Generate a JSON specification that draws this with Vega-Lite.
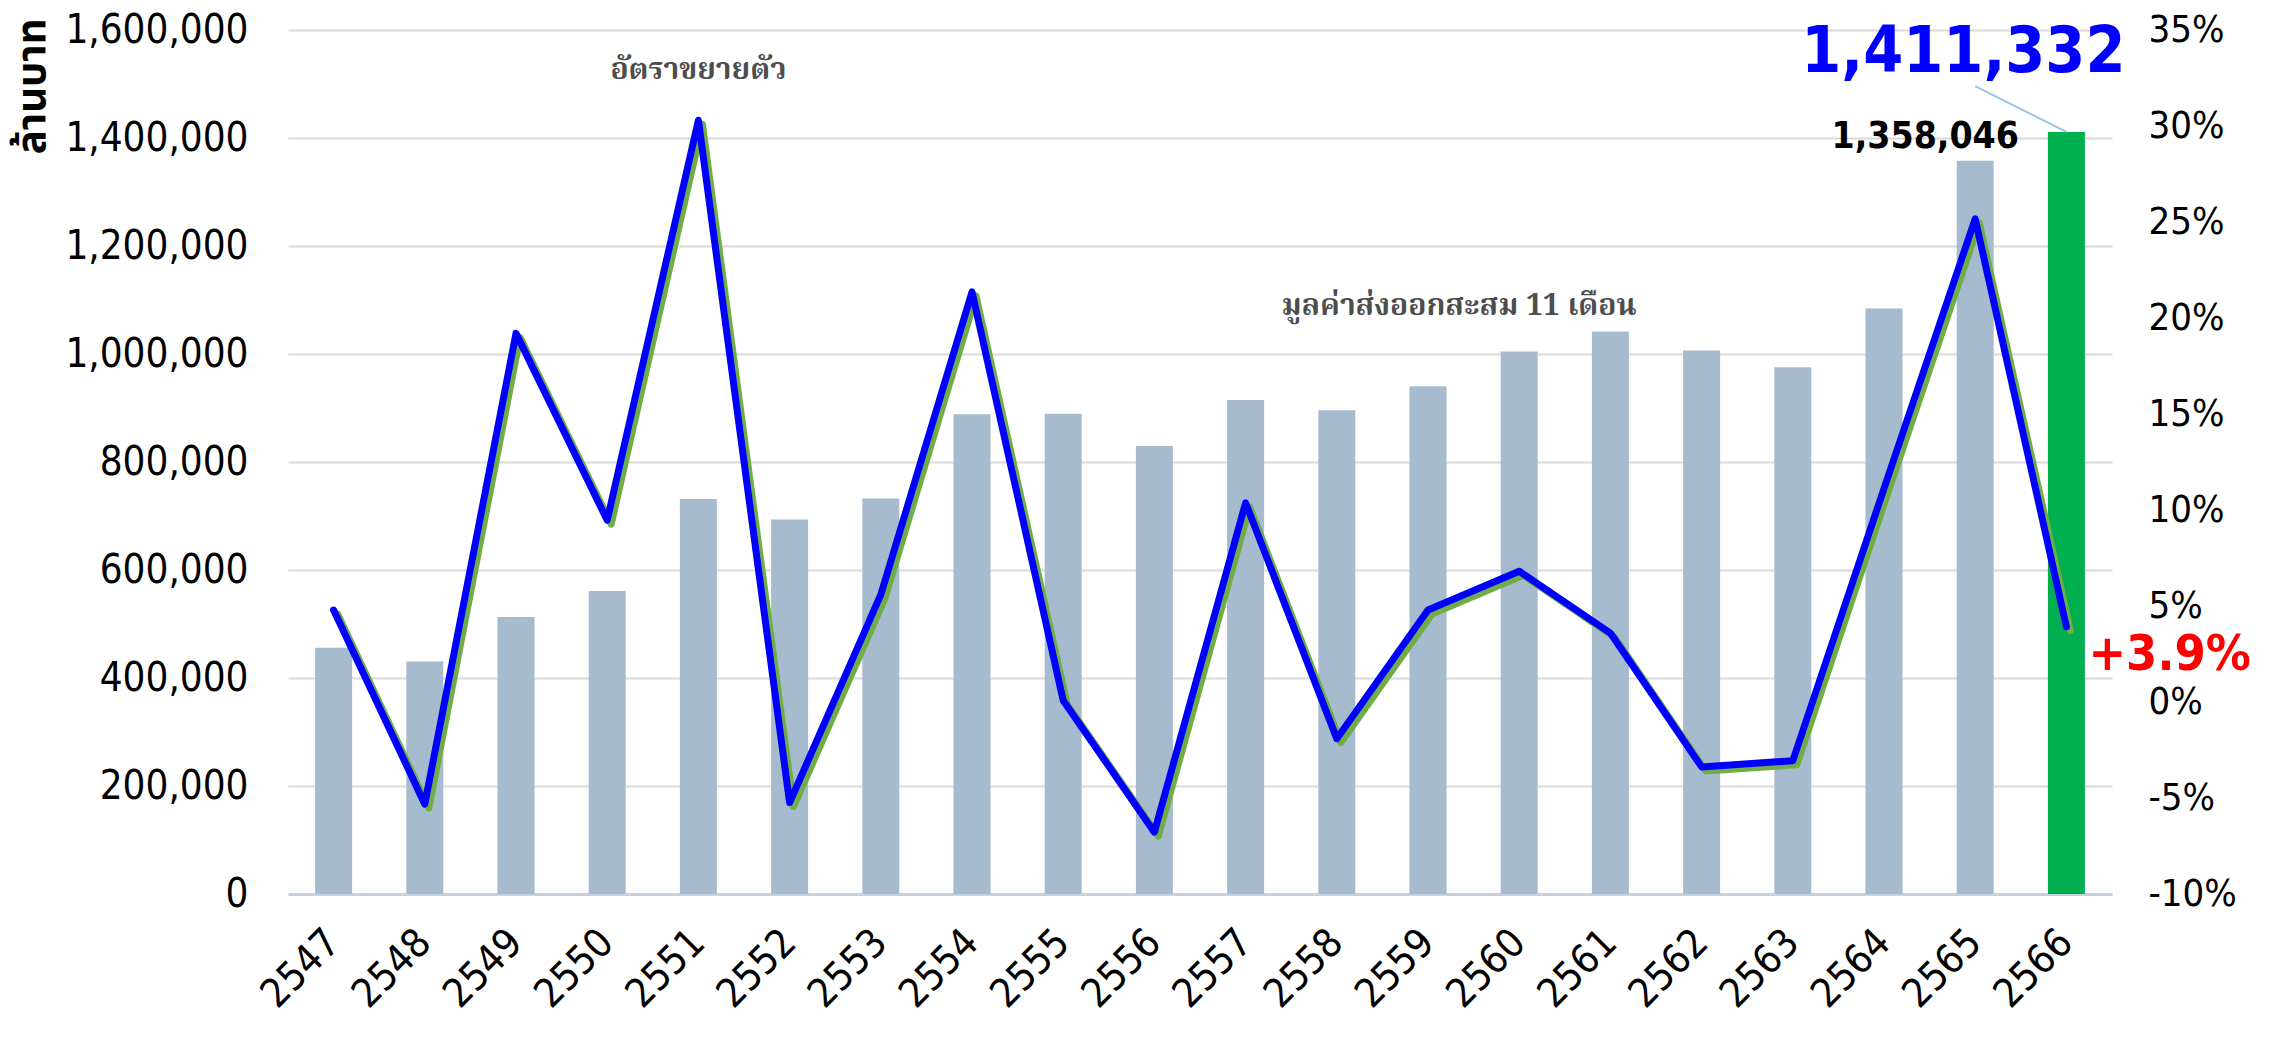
{
  "$schema": "https://vega.github.io/schema/vega-lite/v6.json",
  "width": 1824,
  "height": 864,
  "autosize": {"type": "none"},
  "padding": {"left": 288, "top": 30, "right": 167, "bottom": 143},
  "background": "white",
  "config": {
    "view": {"stroke": null},
    "font": "DejaVu Sans Condensed, DejaVu Sans, sans-serif",
    "axisX": {
      "title": null,
      "labelAngle": -45,
      "labelAlign": "right",
      "labelBaseline": "middle",
      "labelFontSize": 40,
      "labelColor": "#000000",
      "labelPadding": 42,
      "labelFont": "DejaVu Sans Condensed, DejaVu Sans, sans-serif",
      "ticks": false,
      "grid": false,
      "domainColor": "#C5D1DE",
      "domainWidth": 3
    }
  },
  "datasets": {
    "main": [
      {"year": "2547", "value": 456000, "growth": 0.0479},
      {"year": "2548", "value": 430700, "growth": -0.0532},
      {"year": "2549", "value": 513000, "growth": 0.192},
      {"year": "2550", "value": 561200, "growth": 0.0947},
      {"year": "2551", "value": 731400, "growth": 0.303},
      {"year": "2552", "value": 693600, "growth": -0.0524},
      {"year": "2553", "value": 732400, "growth": 0.0559},
      {"year": "2554", "value": 888400, "growth": 0.2136},
      {"year": "2555", "value": 889400, "growth": 0.0008},
      {"year": "2556", "value": 829800, "growth": -0.0678},
      {"year": "2557", "value": 914900, "growth": 0.1037},
      {"year": "2558", "value": 896000, "growth": -0.0191},
      {"year": "2559", "value": 940400, "growth": 0.0479},
      {"year": "2560", "value": 1004700, "growth": 0.0681},
      {"year": "2561", "value": 1041600, "growth": 0.0359},
      {"year": "2562", "value": 1006600, "growth": -0.0338},
      {"year": "2563", "value": 975400, "growth": -0.0306},
      {"year": "2564", "value": 1084200, "growth": 0.1112},
      {"year": "2565", "value": 1358046, "growth": 0.2516},
      {"year": "2566", "value": 1411332, "growth": 0.0392}
    ]
  },
  "layer": [
    {
      "layer": [
        {
          "data": {"name": "main"},
          "mark": {"type": "bar", "width": 37},
          "encoding": {
            "x": {"field": "year", "type": "ordinal", "scale": {"paddingInner": 0, "paddingOuter": 0}},
            "y": {
              "field": "value", "type": "quantitative",
              "scale": {"domain": [0, 1600000], "nice": false},
              "axis": {
                "orient": "left",
                "values": [0, 200000, 400000, 600000, 800000, 1000000, 1200000, 1400000, 1600000],
                "format": ",d",
                "labelFontSize": 40,
                "labelLimit": 400,
                "labelColor": "#000000",
                "labelPadding": 40,
                "ticks": false,
                "domain": false,
                "grid": true,
                "gridColor": "#D9D9D9",
                "gridWidth": 2,
                "title": "ล้านบาท",
                "titleFont": "Tahoma, Noto Sans Thai, Loma, DejaVu Sans, sans-serif",
                "titleFontSize": 40,
                "titleFontWeight": "bold",
                "titleColor": "#000000",
                "titleAngle": -90,
                "titleAlign": "right",
                "titleBaseline": "alphabetic",
                "titleLimit": 400,
                "titleX": -244,
                "titleY": -12
              }
            },
            "color": {
              "condition": {"test": "datum.year === '2566'", "value": "#00B050"},
              "value": "#A7BBCF"
            }
          }
        },
        {
          "data": {"values": [{"year": "2565", "value": 1496000}, {"year": "2566", "value": 1411332}]},
          "mark": {"type": "line", "color": "#9DC3E6", "strokeWidth": 2},
          "encoding": {
            "x": {"field": "year", "type": "ordinal"},
            "y": {"field": "value", "type": "quantitative"}
          }
        },
        {
          "data": {"values": [{"year": "2565", "value": 1358046, "label": "1,358,046"}]},
          "mark": {"type": "text", "fontSize": 37, "fontWeight": "bold", "color": "#000000", "align": "center", "baseline": "alphabetic", "dx": -50, "dy": -13},
          "encoding": {
            "x": {"field": "year", "type": "ordinal"},
            "y": {"field": "value", "type": "quantitative"},
            "text": {"field": "label"}
          }
        },
        {
          "data": {"values": [{"year": "2566", "value": 1522000, "label": "1,411,332"}]},
          "mark": {"type": "text", "fontSize": 64, "fontWeight": "bold", "color": "#0000FF", "align": "center", "baseline": "alphabetic", "dx": -103},
          "encoding": {
            "x": {"field": "year", "type": "ordinal"},
            "y": {"field": "value", "type": "quantitative"},
            "text": {"field": "label"}
          }
        },
        {
          "data": {"values": [
            {"year": "2551", "value": 1526000, "label": "อัตราขยายตัว"}
          ]},
          "mark": {"type": "text", "fontSize": 30, "fontWeight": "bold", "color": "#4D4D4D", "align": "center", "baseline": "middle", "font": "Noto Serif Thai, Noto Sans Thai, Loma, Tahoma, serif"},
          "encoding": {
            "x": {"field": "year", "type": "ordinal"},
            "y": {"field": "value", "type": "quantitative"},
            "text": {"field": "label"}
          }
        },
        {
          "data": {"values": [
            {"year": "2559", "value": 1089000, "label": "มูลค่าส่งออกสะสม 11 เดือน"}
          ]},
          "mark": {"type": "text", "fontSize": 30, "fontWeight": "bold", "color": "#4D4D4D", "align": "center", "baseline": "middle", "dx": 31, "font": "Noto Serif Thai, Noto Sans Thai, Loma, Tahoma, serif"},
          "encoding": {
            "x": {"field": "year", "type": "ordinal"},
            "y": {"field": "value", "type": "quantitative"},
            "text": {"field": "label"}
          }
        }
      ]
    },
    {
      "layer": [
        {
          "data": {"name": "main"},
          "mark": {"type": "line", "color": "#70AD47", "strokeWidth": 7, "xOffset": 4, "yOffset": 4, "strokeJoin": "round", "strokeCap": "round"},
          "encoding": {
            "x": {"field": "year", "type": "ordinal"},
            "y": {
              "field": "growth", "type": "quantitative",
              "scale": {"domain": [-0.1, 0.35], "nice": false, "zero": false},
              "axis": {
                "orient": "right",
                "values": [-0.1, -0.05, 0, 0.05, 0.1, 0.15, 0.2, 0.25, 0.3, 0.35],
                "labelExpr": "round(datum.value * 100) + '%'",
                "labelFontSize": 38,
                "labelColor": "#000000",
                "labelPadding": 36,
                "ticks": false,
                "domain": false,
                "grid": false,
                "title": null
              }
            }
          }
        },
        {
          "data": {"name": "main"},
          "mark": {"type": "line", "color": "#0000FF", "strokeWidth": 7, "strokeJoin": "round", "strokeCap": "round"},
          "encoding": {
            "x": {"field": "year", "type": "ordinal"},
            "y": {"field": "growth", "type": "quantitative"}
          }
        },
        {
          "data": {"values": [{"year": "2566", "growth": 0.0245, "label": "+3.9%"}]},
          "mark": {"type": "text", "fontSize": 50, "fontWeight": "bold", "color": "#FF0000", "align": "left", "baseline": "middle", "dx": 22},
          "encoding": {
            "x": {"field": "year", "type": "ordinal"},
            "y": {"field": "growth", "type": "quantitative"},
            "text": {"field": "label"}
          }
        }
      ]
    }
  ],
  "resolve": {"scale": {"y": "independent"}}
}
